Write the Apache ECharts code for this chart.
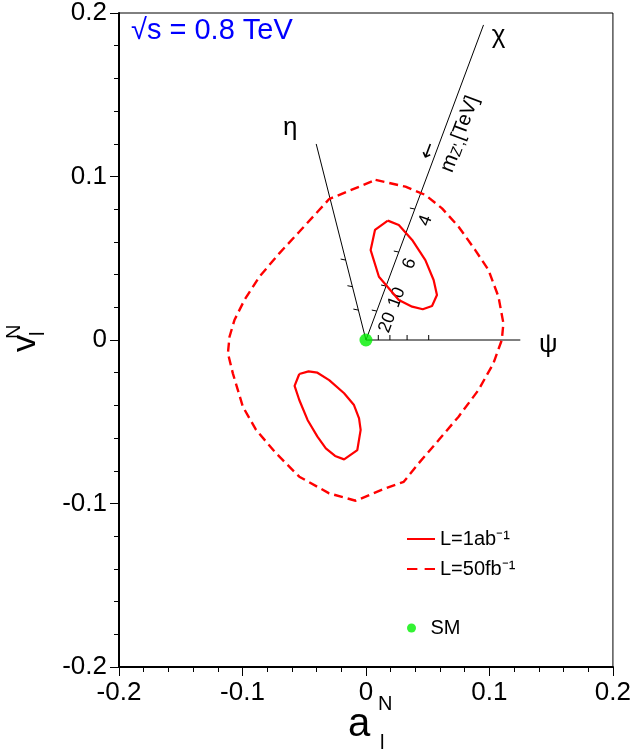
<!DOCTYPE html>
<html><head><meta charset="utf-8">
<script src="https://cdn.jsdelivr.net/npm/echarts@6/dist/echarts.min.js"></script>
<style>html,body{margin:0;padding:0;background:#fff}#c{width:634px;height:752px}</style>
</head><body><div id="c"></div>
<script>
// ---- data ----
const axisMin = -0.2, axisMax = 0.2, axisStep = 0.1;
const tickLabels = ['-0.2', '-0.1', '0', '0.1', '0.2'];

// L = 1 ab^-1 contours (two islands)
const solidUpper = [[0.0177,0.0730],[0.0073,0.0673],[0.0038,0.0550],[0.0105,0.0387],[0.0266,0.0245],
  [0.0374,0.0204],[0.0460,0.0188],[0.0535,0.0208],[0.0575,0.0275],[0.0548,0.0367],[0.0481,0.0489],
  [0.0374,0.0612],[0.0266,0.0703],[0.0177,0.0730]];
const solidLower = [[-0.0540,-0.0208],[-0.0465,-0.0192],[-0.0393,-0.0200],[-0.0298,-0.0245],[-0.0177,-0.0326],
  [-0.0097,-0.0398],[-0.0056,-0.0479],[-0.0043,-0.0550],[-0.0070,-0.0673],[-0.0177,-0.0730],[-0.0250,-0.0709],
  [-0.0325,-0.0663],[-0.0393,-0.0591],[-0.0473,-0.0489],[-0.0540,-0.0367],[-0.0578,-0.0281],[-0.0540,-0.0208]];
// L = 50 fb^-1 contour
const dashedLoop = [[0.0078,0.0979],[0.0320,0.0938],[0.0481,0.0887],[0.0616,0.0805],[0.0750,0.0693],
  [0.0885,0.0550],[0.0992,0.0428],[0.1073,0.0265],[0.1113,0.0102],[0.1100,0.0000],[0.1032,-0.0143],
  [0.0911,-0.0306],[0.0750,-0.0469],[0.0589,-0.0612],[0.0427,-0.0754],[0.0306,-0.0867],[0.0159,-0.0907],
  [-0.0083,-0.0983],[-0.0298,-0.0938],[-0.0540,-0.0836],[-0.0728,-0.0693],[-0.0890,-0.0550],[-0.0997,-0.0408],
  [-0.1078,-0.0204],[-0.1118,-0.0081],[-0.1105,0.0020],[-0.1065,0.0122],[-0.0984,0.0245],[-0.0863,0.0387],
  [-0.0702,0.0530],[-0.0540,0.0662],[-0.0379,0.0795],[-0.0298,0.0862],[0.0078,0.0979]];
// Standard Model point
const smPoint = [[0, 0]];
// Z' model directions
const psiLine = [[0, 0], [0.125, 0]];
const chiLine = [[0, 0], [0.0952, 0.1927]];
const etaLine = [[0, 0], [-0.0403, 0.1199]];
// mass ticks on the model lines (m_Z' = 20, 10, 6, 4 TeV)
const psiTicks = [[0.0100,0],[0.0194,0],[0.0333,0],[0.0508,0]];
const chiTicks = [[0.00875,0.0177],[0.0163,0.0330],[0.0266,0.0538],[0.0396,0.0801]];
const etaTicks = [[-0.00616,0.0183],[-0.01096,0.0326],[-0.01644,0.0489]];
const chiTickLabels = ['20', '10', '6', '4'];
// model names and their anchor points
const modelNames = ['η', 'χ', 'ψ'];
const modelLabelPos = [[-0.0613,0.1297],[0.1073,0.1859],[0.1476,-0.0031]];
const massTitlePos = [0.0758, 0.1260];
const massArrowPos = [0.0508, 0.1156];

const nameSolid = 'L=1ab⁻¹', nameDashed = 'L=50fb⁻¹', nameSM = 'SM';
const FONT = '"Liberation Sans", Arial, Helvetica, sans-serif';

const chart = echarts.init(document.getElementById('c'), null, {renderer: 'canvas'});

function chiAngle(api) {
  const a = api.coord(chiLine[0]), b = api.coord(chiLine[1]);
  return Math.atan2(a[1] - b[1], b[0] - a[0]);
}

const tickData = []
  .concat(psiTicks.map(p => [p[0], p[1], 1]))
  .concat(chiTicks.map(p => [p[0], p[1], 0]))
  .concat(etaTicks.map(p => [p[0], p[1], 0]));

const axisCommon = {
  type: 'value', min: axisMin, max: axisMax, interval: axisStep,
  axisLine: {show: true, onZero: false, lineStyle: {color: '#000', width: 2}},
  axisTick: {show: true, inside: false, length: 9, lineStyle: {color: '#000', width: 1}},
  minorTick: {show: true, splitNumber: 5, length: 5, lineStyle: {color: '#000', width: 1}},
  splitLine: {show: false}, minorSplitLine: {show: false},
  axisLabel: {color: '#000', fontSize: 26, fontFamily: FONT,
    formatter: v => tickLabels[Math.round((v - axisMin) / axisStep)]}
};

const option = {
  animation: false,
  backgroundColor: '#fff',
  title: {text: '√s = 0.8 TeV', left: 131, top: 16, padding: 0,
    textStyle: {color: '#0000ff', fontSize: 29, fontWeight: 'normal', fontFamily: FONT}},
  grid: {left: 119, right: 19, top: 13, bottom: 85, show: true, borderColor: '#000', borderWidth: 1},
  xAxis: Object.assign({}, axisCommon, {axisLabel: Object.assign({}, axisCommon.axisLabel, {margin: 13})}),
  yAxis: Object.assign({}, axisCommon, {axisLabel: Object.assign({}, axisCommon.axisLabel, {margin: 12})}),
  legend: [
    {data: [{name: nameSolid, icon: 'rect'}, {name: nameDashed, icon: 'path://M0,0h10v2h-10zM17,0h10v2h-10z'}],
      orient: 'vertical', left: 407, top: 529, padding: 0, itemWidth: 28, itemHeight: 2,
      symbolKeepAspect: false, itemGap: 10, selectedMode: false,
      textStyle: {color: '#000', fontSize: 20, fontFamily: FONT}},
    {data: [nameSM], orient: 'vertical', left: 407, top: 618, padding: 0, itemWidth: 28, itemHeight: 9,
      icon: 'circle', selectedMode: false, textStyle: {color: '#000', fontSize: 20, fontFamily: FONT}}
  ],
  series: [
    {type: 'line', name: 'psi', data: psiLine, symbol: 'none', silent: true, z: 3,
      lineStyle: {color: '#000', width: 1}},
    {type: 'line', name: 'chi', data: chiLine, symbol: 'none', silent: true, z: 3,
      lineStyle: {color: '#000', width: 1}},
    {type: 'line', name: 'eta', data: etaLine, symbol: 'none', silent: true, z: 3,
      lineStyle: {color: '#000', width: 1}},
    {type: 'custom', name: 'ticks', data: tickData, silent: true, z: 3,
      renderItem: (params, api) => {
        const p = api.coord([api.value(0), api.value(1)]);
        const up = api.value(2) === 1;
        return {type: 'line', shape: up ? {x1: p[0], y1: p[1], x2: p[0], y2: p[1] - 5}
                                        : {x1: p[0], y1: p[1], x2: p[0] - 5, y2: p[1] - 1},
          style: {stroke: '#000', lineWidth: 1}};
      }},
    {type: 'custom', name: 'tickLabels', data: chiTicks.map((p, i) => [p[0], p[1], i]), silent: true, z: 4,
      renderItem: (params, api) => {
        const p = api.coord([api.value(0), api.value(1)]);
        const a = chiAngle(api);
        const u = [Math.cos(a), -Math.sin(a)], n = [Math.sin(a), Math.cos(a)];
        const x = p[0] - 7 * u[0] + 14 * n[0], y = p[1] - 7 * u[1] + 14 * n[1];
        return {type: 'text', x: x, y: y, rotation: a,
          style: {text: chiTickLabels[api.value(2)], font: '18px ' + FONT, fill: '#000',
            align: 'center', verticalAlign: 'middle'}};
      }},
    {type: 'custom', name: 'massTitle', data: [[massTitlePos[0], massTitlePos[1], massArrowPos[0], massArrowPos[1]]],
      silent: true, z: 4,
      renderItem: (params, api) => {
        const p = api.coord([api.value(0), api.value(1)]);
        const q = api.coord([api.value(2), api.value(3)]);
        const a = chiAngle(api);
        return {type: 'group', children: [
          {type: 'text', x: p[0], y: p[1], rotation: a,
            style: {text: '{m|m}{s|Z\',}{t|[TeV]}', align: 'center', verticalAlign: 'middle', fill: '#000',
              rich: {m: {fontSize: 21, fontFamily: FONT, verticalAlign: 'bottom'},
                     s: {fontSize: 15, fontFamily: FONT, padding: [8, 0, 0, 0]},
                     t: {fontSize: 20, fontFamily: FONT}}}},
          {type: 'text', x: q[0], y: q[1], rotation: a,
            style: {text: '←', font: '20px "DejaVu Sans", ' + FONT, fill: '#000', align: 'center', verticalAlign: 'middle'}}
        ]};
      }},
    {type: 'custom', name: 'modelNames', data: modelLabelPos.map((p, i) => [p[0], p[1], i]), silent: true, z: 4,
      renderItem: (params, api) => {
        const p = api.coord([api.value(0), api.value(1)]);
        return {type: 'text', x: p[0], y: p[1],
          style: {text: modelNames[api.value(2)], font: '26px ' + FONT, fill: '#000',
            align: 'center', verticalAlign: 'middle'}};
      }},
    {type: 'line', name: nameDashed, data: dashedLoop, symbol: 'none', silent: true, z: 5,
      lineStyle: {color: '#ff0000', width: 2.4, type: [9, 5]}, itemStyle: {color: '#ff0000'}},
    {type: 'line', name: nameSolid, data: solidUpper, symbol: 'none', silent: true, z: 5,
      lineStyle: {color: '#ff0000', width: 2.2}, itemStyle: {color: '#ff0000'}},
    {type: 'line', name: nameSolid, data: solidLower, symbol: 'none', silent: true, z: 5,
      lineStyle: {color: '#ff0000', width: 2.2}, itemStyle: {color: '#ff0000'}},
    {type: 'scatter', name: nameSM, data: smPoint, symbol: 'circle', symbolSize: 13, silent: true, z: 6,
      itemStyle: {color: '#00f000'}}
  ],
  graphic: [
    // x axis title a_l^N
    {type: 'text', left: 348, top: 705, style: {text: 'a', font: '40px ' + FONT, fill: '#000'}},
    {type: 'text', left: 378, top: 694, style: {text: 'N', font: '20px ' + FONT, fill: '#000'}},
    {type: 'text', left: 380, top: 733, style: {text: 'l', font: '20px ' + FONT, fill: '#000'}},
    // y axis title v_l^N (rotated)
    {type: 'text', x: 43, y: 352, rotation: Math.PI / 2,
      style: {text: 'v', font: '34px ' + FONT, fill: '#000', align: 'left', verticalAlign: 'bottom'}},
    {type: 'text', x: 24, y: 339, rotation: Math.PI / 2,
      style: {text: 'N', font: '20px ' + FONT, fill: '#000', align: 'left', verticalAlign: 'bottom'}},
    {type: 'text', x: 48, y: 336, rotation: Math.PI / 2,
      style: {text: 'l', font: '20px ' + FONT, fill: '#000', align: 'left', verticalAlign: 'bottom'}}
  ]
};
chart.setOption(option);
</script></body></html>
